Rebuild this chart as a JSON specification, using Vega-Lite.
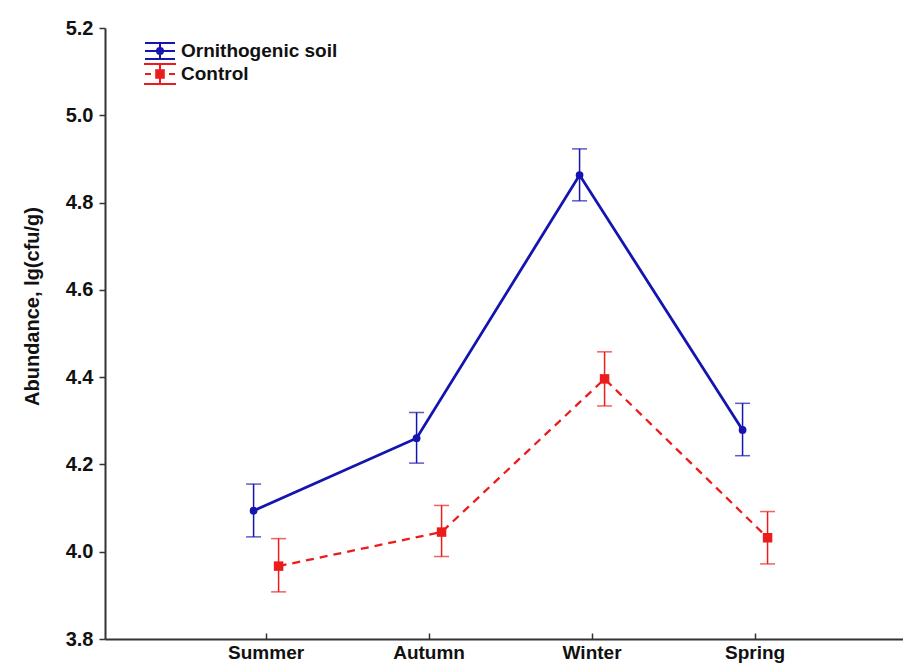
{
  "$schema": "https://vega.github.io/schema/vega-lite/v6.json",
  "autosize": {"type": "none"},
  "padding": {"left": 105, "top": 28, "right": 0, "bottom": 27},
  "width": 798,
  "height": 611,
  "background": "white",
  "config": {
    "view": {"stroke": null},
    "font": "Liberation Sans, Arial, sans-serif"
  },
  "data": {
    "values": [
      {"season": "Summer", "series": "Ornithogenic soil", "mean": 4.094, "lo": 4.034, "hi": 4.155},
      {"season": "Autumn", "series": "Ornithogenic soil", "mean": 4.26, "lo": 4.203, "hi": 4.319},
      {"season": "Winter", "series": "Ornithogenic soil", "mean": 4.863, "lo": 4.804, "hi": 4.923},
      {"season": "Spring", "series": "Ornithogenic soil", "mean": 4.279, "lo": 4.22, "hi": 4.34},
      {"season": "Summer", "series": "Control", "mean": 3.967, "lo": 3.908, "hi": 4.03},
      {"season": "Autumn", "series": "Control", "mean": 4.045, "lo": 3.989, "hi": 4.106},
      {"season": "Winter", "series": "Control", "mean": 4.396, "lo": 4.334, "hi": 4.458},
      {"season": "Spring", "series": "Control", "mean": 4.032, "lo": 3.972, "hi": 4.092}
    ]
  },
  "encoding": {
    "x": {
      "field": "season", "type": "nominal",
      "sort": ["Summer", "Autumn", "Winter", "Spring"],
      "scale": {"type": "band", "paddingInner": 0, "paddingOuter": 0.448, "align": 0.545},
      "axis": {
        "title": null, "labelAngle": 0, "grid": false,
        "domainColor": "#333", "domainWidth": 2,
        "tickColor": "#333", "tickWidth": 1.5, "tickSize": -6,
        "labelFontSize": 19, "labelFontWeight": "bold", "labelColor": "#111",
        "labelPadding": 10
      }
    },
    "xOffset": {
      "field": "series", "type": "nominal",
      "scale": {"type": "point", "domain": ["Ornithogenic soil", "Control"], "range": [69, 94], "padding": 0}
    },
    "color": {
      "field": "series", "type": "nominal",
      "scale": {"domain": ["Ornithogenic soil", "Control"], "range": ["#1414b0", "#ec1c1c"]},
      "legend": {
        "title": null, "orient": "none", "legendX": 44, "legendY": 12,
        "symbolSize": 400, "symbolStrokeWidth": 2, "symbolOpacity": 1, "rowPadding": -3,
        "labelFontSize": 19, "labelFontWeight": "bold", "labelColor": "#111",
        "labelOffset": 10
      }
    }
  },
  "layer": [
    {
      "mark": {"type": "rule", "strokeWidth": 1.5},
      "encoding": {
        "y": {
          "field": "lo", "type": "quantitative",
          "scale": {"domain": [3.8, 5.2], "nice": false, "zero": false},
          "axis": {
            "title": "Abundance, lg(cfu/g)", "values": [3.8, 4.0, 4.2, 4.4, 4.6, 4.8, 5.0, 5.2],
            "format": ".1f", "grid": false,
            "domainColor": "#333", "domainWidth": 2,
            "tickColor": "#333", "tickWidth": 1.5, "tickSize": 6,
            "labelFontSize": 20, "labelFontWeight": "bold", "labelColor": "#111",
            "labelPadding": 6,
            "titleFontSize": 20, "titleFontWeight": "bold", "titleColor": "#111",
            "titleX": -73, "titleY": 278, "titleAlign": "center", "titleBaseline": "middle", "titleAngle": -90
          }
        },
        "y2": {"field": "hi"}
      }
    },
    {
      "mark": {"type": "tick", "thickness": 1.5, "size": 15},
      "encoding": {"y": {"field": "lo", "type": "quantitative"}}
    },
    {
      "mark": {"type": "tick", "thickness": 1.5, "size": 15},
      "encoding": {"y": {"field": "hi", "type": "quantitative"}}
    },
    {
      "transform": [{"filter": "datum.series === 'Ornithogenic soil'"}],
      "mark": {"type": "line", "strokeWidth": 2.8},
      "encoding": {"y": {"field": "mean", "type": "quantitative"}}
    },
    {
      "transform": [{"filter": "datum.series === 'Control'"}],
      "mark": {"type": "line", "strokeWidth": 2.3, "strokeDash": [8, 6]},
      "encoding": {"y": {"field": "mean", "type": "quantitative"}}
    },
    {
      "transform": [{"filter": "datum.series === 'Ornithogenic soil'"}],
      "mark": {"type": "point", "filled": true, "opacity": 1, "shape": "circle", "size": 60},
      "encoding": {"y": {"field": "mean", "type": "quantitative"}}
    },
    {
      "transform": [{"filter": "datum.series === 'Control'"}],
      "mark": {"type": "point", "filled": true, "opacity": 1, "shape": "square", "size": 90},
      "encoding": {"y": {"field": "mean", "type": "quantitative"}}
    },
    {
      "mark": {"type": "point", "filled": true, "opacity": 0},
      "encoding": {
        "y": {"field": "mean", "type": "quantitative"},
        "shape": {
          "field": "series", "type": "nominal",
          "scale": {
            "domain": ["Ornithogenic soil", "Control"],
            "range": [
              "M-1.5,-0.8H1.5M-1.5,0.8H1.5M0,-0.8V0.8M-1.5,0H1.5M-0.3,0A0.3,0.3 0 1,0 0.3,0A0.3,0.3 0 1,0 -0.3,0ZM-0.1,0A0.1,0.1 0 1,0 0.1,0A0.1,0.1 0 1,0 -0.1,0Z",
              "M-1.6,-1H1.6M-1.6,1H1.6M0,-1V1M-1.5,0H-0.9M0.9,0H1.5M-0.38,-0.38H0.38V0.38H-0.38ZM-0.18,-0.18H0.18V0.18H-0.18ZM-0.38,0H0.38"
            ]
          },
          "legend": {"title": null}
        }
      }
    }
  ]
}
